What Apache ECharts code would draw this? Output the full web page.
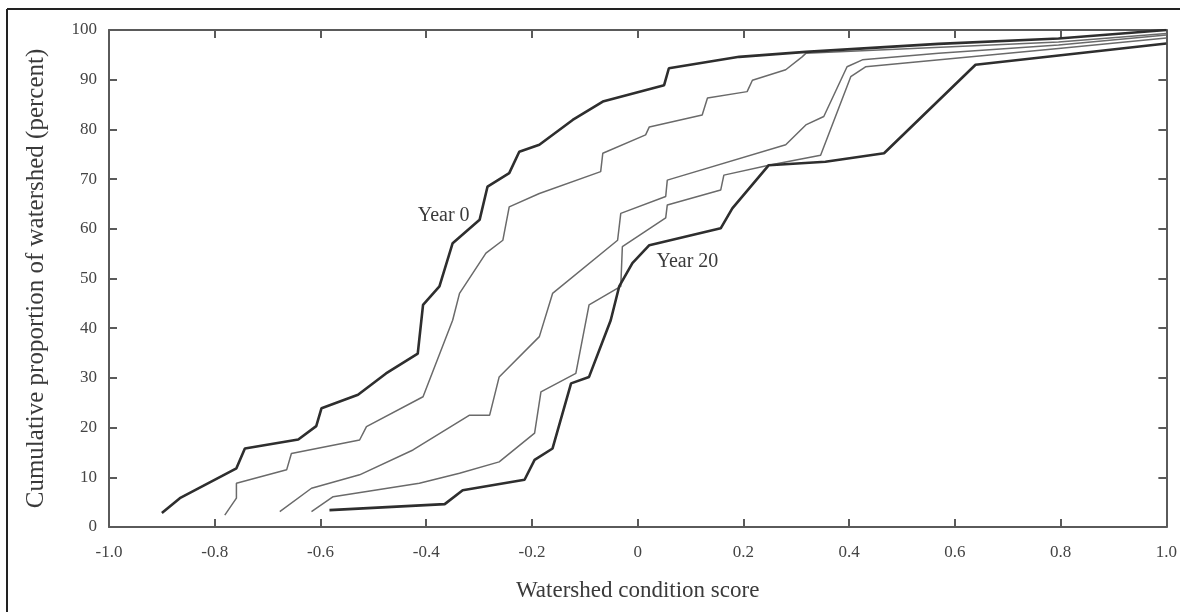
<!DOCTYPE html>
<html>
<head>
<meta charset="utf-8">
<script src="https://cdn.jsdelivr.net/npm/echarts@6/dist/echarts.min.js"></script>
<style>
  html, body { margin: 0; padding: 0; background: #fff; }
  #chart { width: 1180px; height: 612px; }
</style>
</head>
<body>
<div id="chart"></div>
<script>
// watershed condition score (x) vs cumulative percent (y)
const year0 = [
    [-0.900, 2.8], [-0.866, 5.8], [-0.759, 11.8], [-0.743, 15.8], [-0.642, 17.6],
    [-0.608, 20.3], [-0.598, 23.9], [-0.529, 26.6], [-0.476, 30.9], [-0.416, 34.9],
    [-0.406, 44.7], [-0.375, 48.4], [-0.350, 57.1], [-0.299, 61.8], [-0.284, 68.5],
    [-0.243, 71.2], [-0.224, 75.5], [-0.186, 76.9], [-0.123, 81.9], [-0.066, 85.6],
    [0.050, 88.9], [0.059, 92.3], [0.192, 94.6], [0.318, 95.6], [0.569, 97.2],
    [0.796, 98.3], [1.0, 100]
];
const yearA = [
    [-0.781, 2.4], [-0.759, 5.8], [-0.759, 8.8], [-0.664, 11.5], [-0.655, 14.8],
    [-0.526, 17.5], [-0.513, 20.2], [-0.406, 26.2], [-0.350, 41.6], [-0.337, 47.0],
    [-0.287, 55.1], [-0.255, 57.7], [-0.243, 64.4], [-0.186, 67.1], [-0.070, 71.5],
    [-0.066, 75.2], [0.015, 78.9], [0.022, 80.5], [0.122, 82.9], [0.132, 86.3],
    [0.207, 87.6], [0.217, 89.9], [0.280, 92.0], [0.311, 94.6], [0.318, 95.3],
    [0.796, 97.6], [1.0, 99.3]
];
const yearB = [
    [-0.677, 3.1], [-0.617, 7.8], [-0.526, 10.5], [-0.425, 15.5], [-0.318, 22.5],
    [-0.280, 22.5], [-0.262, 30.2], [-0.186, 38.3], [-0.161, 47.0], [-0.038, 57.7],
    [-0.032, 63.1], [0.053, 66.5], [0.056, 69.8], [0.280, 76.9], [0.318, 80.9],
    [0.352, 82.6], [0.396, 92.6], [0.425, 94.0], [0.569, 95.3], [0.796, 97.0],
    [1.0, 99.0]
];
const yearC = [
    [-0.617, 3.1], [-0.576, 6.1], [-0.413, 8.8], [-0.337, 10.8], [-0.262, 13.1],
    [-0.195, 18.9], [-0.183, 27.2], [-0.117, 30.9], [-0.092, 44.7], [-0.032, 48.4],
    [-0.029, 56.4], [0.053, 62.2], [0.056, 64.8], [0.157, 67.8], [0.163, 70.8],
    [0.248, 72.8], [0.346, 74.8], [0.403, 90.6], [0.431, 92.6], [0.796, 96.3],
    [1.0, 98.4]
];
const year20 = [
    [-0.583, 3.4], [-0.365, 4.6], [-0.331, 7.4], [-0.214, 9.5], [-0.195, 13.5],
    [-0.161, 15.8], [-0.126, 28.9], [-0.092, 30.2], [-0.051, 41.6], [-0.035, 48.4],
    [-0.010, 53.1], [0.022, 56.7], [0.157, 60.1], [0.179, 64.1], [0.248, 72.8],
    [0.355, 73.5], [0.466, 75.2], [0.639, 93.0], [1.0, 97.3]
];

const xTitle = 'Watershed condition score';
const yTitle = 'Cumulative proportion of watershed (percent)';

const FONT = '"Liberation Serif", "DejaVu Serif", serif';
const AXIS_COLOR = '#5a5a5a';

const chart = echarts.init(document.getElementById('chart'));

function frameAxis(extra) {
    return Object.assign({
        type: 'value',
        axisLine: {show: true, onZero: false, lineStyle: {color: AXIS_COLOR, width: 2}},
        axisTick: {show: true, inside: true, length: 8, lineStyle: {color: AXIS_COLOR, width: 2}},
        splitLine: {show: false},
        axisLabel: {show: false}
    }, extra);
}

function curve(name, data, color, width, label) {
    const s = {
        name: name,
        type: 'line',
        data: data,
        showSymbol: false,
        symbol: 'none',
        lineStyle: {color: color, width: width},
        silent: true,
        z: width > 2 ? 3 : 2
    };
    if (label) {
        s.markPoint = {
            symbol: 'circle',
            symbolSize: 2,
            itemStyle: {color: 'rgba(0,0,0,0)'},
            silent: true,
            data: [{
                coord: label.coord,
                label: {
                    show: true,
                    position: 'inside',
                    formatter: label.text,
                    color: '#3a3a3a',
                    fontFamily: FONT,
                    fontSize: 20
                }
            }]
        };
    }
    return s;
}

const option = {
    backgroundColor: '#fff',
    animation: false,
    grid: {left: 109, right: 12, top: 30, bottom: 85},
    xAxis: [
        frameAxis({
            min: -1, max: 1, interval: 0.2,
            position: 'bottom',
            name: xTitle,
            nameLocation: 'middle',
            nameGap: 52,
            nameTextStyle: {fontFamily: FONT, fontSize: 23, color: '#3a3a3a'},
            axisLabel: {
                show: true,
                margin: 17,
                fontFamily: FONT,
                fontSize: 17,
                color: '#444',
                formatter: v => Math.abs(v) < 1e-9 ? '0' : v.toFixed(1)
            }
        }),
        frameAxis({min: -1, max: 1, interval: 0.2, position: 'top'})
    ],
    yAxis: [
        frameAxis({
            min: 0, max: 100, interval: 10,
            position: 'left',
            name: yTitle,
            nameLocation: 'middle',
            nameGap: 60,
            nameTextStyle: {fontFamily: FONT, fontSize: 25, color: '#3a3a3a'},
            axisLabel: {
                show: true,
                margin: 12,
                fontFamily: FONT,
                fontSize: 17,
                color: '#444'
            }
        }),
        frameAxis({min: 0, max: 100, interval: 10, position: 'right'})
    ],
    series: [
        curve('Year 0', year0, '#2e2e2e', 2.6, {coord: [-0.367, 62.6], text: 'Year 0'}),
        curve('Year 5', yearA, '#6a6a6a', 1.5),
        curve('Year 10', yearB, '#6a6a6a', 1.5),
        curve('Year 15', yearC, '#6a6a6a', 1.5),
        curve('Year 20', year20, '#2e2e2e', 2.6, {coord: [0.094, 53.3], text: 'Year 20'})
    ],
    graphic: [
        {type: 'line', shape: {x1: 7, y1: 9, x2: 1180, y2: 9}, style: {stroke: '#222', lineWidth: 2}, silent: true},
        {type: 'line', shape: {x1: 7, y1: 9, x2: 7, y2: 612}, style: {stroke: '#222', lineWidth: 2}, silent: true}
    ]
};

chart.setOption(option);
</script>
</body>
</html>
